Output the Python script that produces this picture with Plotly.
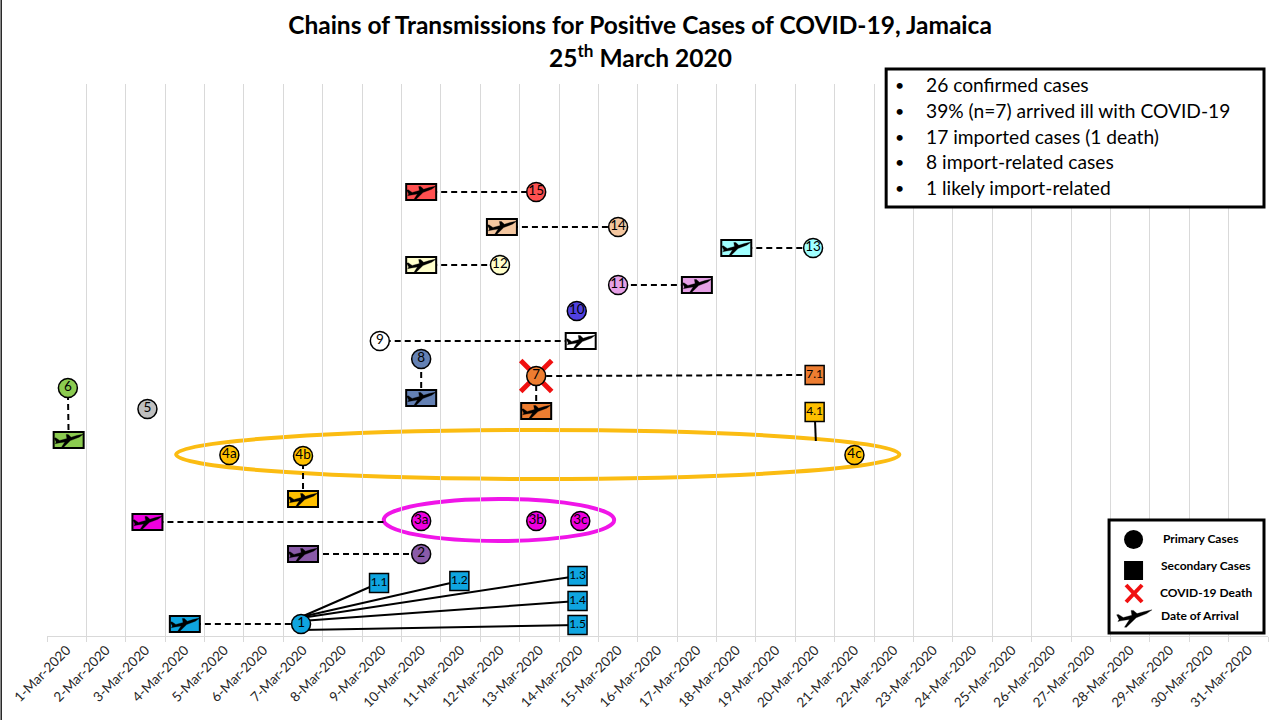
import plotly.graph_objects as go

# ---------- data ----------
days = list(range(1, 32))
tick_labels = [f"{d}-Mar-2020" for d in days]

case_names = ["1", "2", "3a", "3b", "3c", "4a", "4b", "4c", "5", "6", "7", "8", "9", "10", "11", "12", "13", "14", "15"]
case_days = [6.95, 10.0, 10.0, 12.92, 14.04, 5.13, 7.0, 21.0, 3.05, 1.03, 12.92, 10.0, 8.95, 13.95, 15.0, 12.0, 19.95, 15.0, 12.92]
case_rows = [1.2, 8.2, 11.5, 11.5, 11.5, 18.1, 18.0, 18.1, 22.7, 24.8, 26.0, 27.7, 29.5, 32.5, 35.1, 37.1, 38.8, 40.9, 44.4]
case_colors = ["#0FA5E0", "#8A5BA8", "#EE00DE", "#EE00DE", "#EE00DE", "#FFC000", "#FFC000", "#FFC000", "#BFBFBF",
               "#8CCB50", "#ED7D31", "#6481B4", "#FFFFFF", "#5141E0", "#E6A0E6", "#FFFFCC", "#A0FFFF", "#F4C7A0", "#FF5050"]

sec_names = ["1.1", "1.2", "1.3", "1.4", "1.5", "4.1", "7.1"]
sec_days = [8.93, 10.97, 13.97, 13.97, 13.97, 19.99, 19.99]
sec_rows = [5.3, 5.5, 6.0, 3.5, 1.1, 22.4, 26.1]
sec_colors = ["#0FA5E0", "#0FA5E0", "#0FA5E0", "#0FA5E0", "#0FA5E0", "#FFC000", "#ED7D31"]

arrival_names = ["1", "2", "3", "4b", "6", "7", "8", "9", "11", "12", "13", "14", "15"]
arrival_days = [4.0, 7.0, 3.05, 7.0, 1.05, 12.92, 10.0, 14.05, 17.0, 10.0, 18.0, 12.05, 10.0]
arrival_rows = [1.2, 8.2, 11.4, 13.7, 19.6, 22.5, 23.8, 29.5, 35.1, 37.1, 38.8, 40.9, 44.4]
arrival_colors = ["#0FA5E0", "#8A5BA8", "#EE00DE", "#FFC000", "#8CCB50", "#ED7D31", "#6481B4", "#FFFFFF",
                  "#E6A0E6", "#FFFFCC", "#A0FFFF", "#F4C7A0", "#FF5050"]

dashed_links = ["1", "2", "4b", "6", "7", "8", "9", "11", "12", "13", "14", "15"]
contact_links = ["1.1", "1.2", "1.3", "1.4", "1.5"]
contact_from_rows = [1.9, 1.9, 1.8, 1.5, 0.6]

cluster_ellipses = [
    dict(d0=3.78, d1=22.14, r0=15.7, r1=20.6, color="#FBBC12"),
    dict(d0=9.05, d1=14.9, r0=9.5, r1=13.7, color="#F015E8"),
]
import3_line_end = (9.05, 11.4)
link_7_1 = ("7", "7.1")
stub_4_1 = (20.02, 19.5)

summary_lines = ["26 confirmed cases", "39% (n=7) arrived ill with COVID-19", "17 imported cases (1 death)",
                 "8 import-related cases", "1 likely import-related"]
legend_labels = ["Primary Cases", "Secondary Cases", "COVID-19 Death", "Date of Arrival"]
title_line1 = "Chains of Transmissions for Positive Cases of COVID-19, Jamaica"
title_line2 = "25<sup>th</sup> March 2020"

# ---------- layout helpers ----------
L, R, T, B = 46.5, 1268.0, 84.0, 636.0
FONT = "Lato"
def px(x): return (x - L) / (R - L)
def py(y): return (B - y) / (B - T)

case_pos = dict(zip(case_names, zip(case_days, case_rows)))
sec_pos = dict(zip(sec_names, zip(sec_days, sec_rows)))
arr_pos = dict(zip(arrival_names, zip(arrival_days, arrival_rows)))

PLANE = [(15, 6), (8, 4.4), (2.5, 2.8), (-0.5, 5.5), (-2.5, 5.5), (-1.8, 1.4), (-9, -0.4), (-13, 2.2), (-14.5, 1.8),
         (-12.5, -2), (-13.5, -3.8), (-11, -3.2), (-3.8, -2), (-8, -8.5), (-6.3, -8.5), (1.8, -0.6), (10.5, 2.8)]
def plane_path(s=1.0):
    return "M" + " L".join(f"{a*s:.1f},{b*s:.1f}" for a, b in PLANE) + " Z"

shapes, annotations = [], []

# ellipses
for e in cluster_ellipses:
    shapes.append(dict(type="circle", xref="x", yref="y", x0=e["d0"], x1=e["d1"], y0=e["r0"], y1=e["r1"],
                       line=dict(color=e["color"], width=4), layer="below"))

# arrival boxes + planes
for d, r, c in zip(arrival_days, arrival_rows, arrival_colors):
    shapes.append(dict(type="rect", xref="x", yref="y", xsizemode="pixel", ysizemode="pixel", xanchor=d, yanchor=r,
                       x0=-15, x1=15, y0=-8, y1=8, fillcolor=c, line=dict(color="black", width=2)))
    shapes.append(dict(type="path", xref="x", yref="y", xsizemode="pixel", ysizemode="pixel", xanchor=d, yanchor=r,
                       path=plane_path(), fillcolor="black", line=dict(color="black", width=0.3)))

# summary box
shapes.append(dict(type="rect", xref="paper", yref="paper", x0=px(886), x1=px(1264), y0=py(207), y1=py(69),
                   fillcolor="white", line=dict(color="black", width=3)))
for txt, y in zip(summary_lines, [84, 110, 136, 162, 187]):
    annotations.append(dict(xref="paper", yref="paper", x=px(899), y=py(y), text="•", showarrow=False, xanchor="center",
                            yanchor="middle", font=dict(family=FONT, size=16, color="black")))
    annotations.append(dict(xref="paper", yref="paper", x=px(924), y=py(y), text=txt, showarrow=False, xanchor="left",
                            yanchor="middle", font=dict(family=FONT, size=19.2, color="black")))

# legend box
shapes.append(dict(type="rect", xref="paper", yref="paper", x0=px(1109), x1=px(1264), y0=py(633), y1=py(520),
                   fillcolor="white", line=dict(color="black", width=3)))
shapes.append(dict(type="circle", xref="paper", yref="paper", x0=px(1124), x1=px(1143), y0=py(549), y1=py(530),
                   fillcolor="black", line=dict(color="black", width=0)))
shapes.append(dict(type="rect", xref="paper", yref="paper", x0=px(1124), x1=px(1143), y0=py(580), y1=py(561),
                   fillcolor="black", line=dict(color="black", width=0)))
for a, b in [((1126, 585), (1142, 602)), ((1126, 602), (1142, 585))]:
    shapes.append(dict(type="line", xref="paper", yref="paper", x0=px(a[0]), y0=py(a[1]), x1=px(b[0]), y1=py(b[1]),
                       line=dict(color="#F01010", width=4)))
shapes.append(dict(type="path", xref="paper", yref="paper", xsizemode="pixel", ysizemode="pixel",
                   xanchor=px(1134), yanchor=py(617), path=plane_path(1.2), fillcolor="black", line=dict(color="black", width=0.3)))
for txt, x, y in zip(legend_labels, [1161, 1159, 1158, 1159], [538, 565, 592, 615]):
    annotations.append(dict(xref="paper", yref="paper", x=px(x), y=py(y), text=f"<b>{txt}</b>", showarrow=False,
                            xanchor="left", yanchor="middle", font=dict(family=FONT, size=12, color="black")))

# second title line
annotations.append(dict(xref="paper", yref="paper", x=px(640), y=py(56), text=f"<b>{title_line2}</b>", showarrow=False,
                        xanchor="center", yanchor="middle", font=dict(family=FONT, size=24.5, color="black")))

# left page edge
shapes.append(dict(type="line", xref="paper", yref="paper", x0=px(0.7), x1=px(0.7), y0=py(720), y1=py(0),
                   line=dict(color="#222222", width=1.5)))

# ---------- traces ----------
dash_x, dash_y = [], []
for name in dashed_links:
    (a, b), (c, d) = arr_pos[name], case_pos[name]
    dash_x += [a, c, None]; dash_y += [b, d, None]
a, b = arr_pos["3"]
dash_x += [a, import3_line_end[0], None]; dash_y += [b, import3_line_end[1], None]
(a, b), (c, d) = case_pos[link_7_1[0]], sec_pos[link_7_1[1]]
dash_x += [a, c, None]; dash_y += [b, d, None]

solid_x, solid_y = [], []
for name, start in zip(contact_links, contact_from_rows):
    c, d = sec_pos[name]
    solid_x += [case_pos["1"][0], c, None]; solid_y += [start, d, None]
a, b = sec_pos["4.1"]
solid_x += [a, stub_4_1[0], None]; solid_y += [b, stub_4_1[1], None]

fig = go.Figure()
fig.add_trace(go.Scatter(x=dash_x, y=dash_y, mode="lines", line=dict(color="black", width=2, dash="6px,4px"),
                         hoverinfo="skip", showlegend=False))
fig.add_trace(go.Scatter(x=solid_x, y=solid_y, mode="lines", line=dict(color="black", width=2),
                         hoverinfo="skip", showlegend=False))
fig.add_trace(go.Scatter(x=[case_pos["7"][0]], y=[case_pos["7"][1]], mode="markers", showlegend=False,
                         marker=dict(symbol="x-thin", size=31, line=dict(color="#F01010", width=5))))
fig.add_trace(go.Scatter(x=case_days, y=case_rows, mode="markers+text", text=case_names, textposition="middle center",
                         textfont=dict(family=FONT, size=13.5, color="black"), showlegend=False,
                         marker=dict(size=19, color=case_colors, line=dict(color="black", width=1.5))))
fig.add_trace(go.Scatter(x=sec_days, y=sec_rows, mode="markers+text", text=sec_names, textposition="middle center",
                         textfont=dict(family=FONT, size=12, color="black"), showlegend=False,
                         marker=dict(symbol="square", size=19, color=sec_colors, line=dict(color="black", width=1.5))))

fig.update_layout(
    width=1280, height=720, autosize=False, paper_bgcolor="white", plot_bgcolor="white",
    margin=dict(l=L, r=1280 - R, t=T, b=720 - B, pad=0),
    title=dict(text=f"<b>{title_line1}</b>", x=640 / 1280, xanchor="center",
               y=1 - 25 / 720, yanchor="middle", font=dict(family=FONT, size=24.5, color="black")),
    shapes=shapes, annotations=annotations, showlegend=False,
    xaxis=dict(range=[0.5, 31.5], tickmode="array", tickvals=days, ticktext=tick_labels, tickangle=-45, automargin=False,
               tickfont=dict(family=FONT, size=13.5, color="#262626"), showgrid=False, zeroline=False, ticks="",
               showline=True, linecolor="#D9D9D9", linewidth=1,
               minor=dict(tickmode="array", tickvals=[d - 0.5 for d in days] + [31.5], showgrid=True,
                          gridcolor="#D9D9D9", gridwidth=1, ticks="outside", ticklen=5, tickcolor="#D9D9D9")),
    yaxis=dict(range=[0, 55.2], visible=False, automargin=False),
)
fig.write_html("out.html", config=dict(displayModeBar=False),
               post_script="document.body.style.margin='0';document.body.style.overflow='hidden';")
